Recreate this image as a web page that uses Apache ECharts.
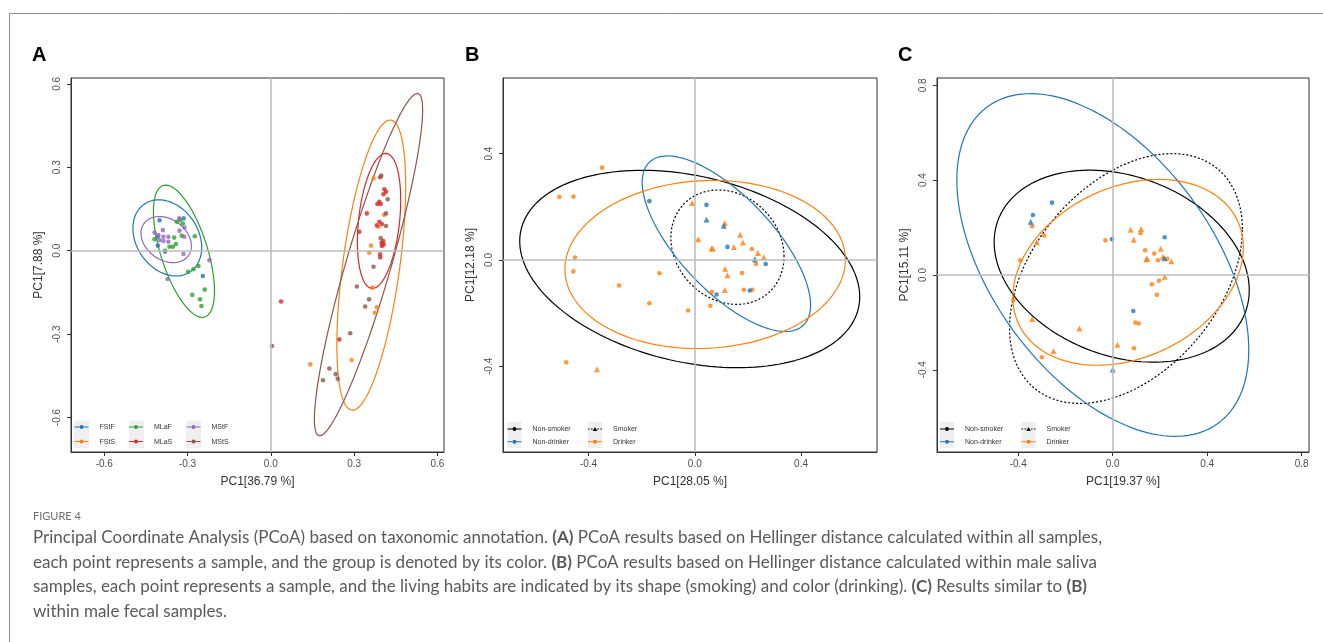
<!DOCTYPE html>
<html>
<head>
<meta charset="utf-8">
<script src="https://cdn.jsdelivr.net/npm/echarts@6/dist/echarts.min.js"></script>
<style>
  html, body { margin: 0; padding: 0; background: #fff; }
  #chart { width: 1323px; height: 642px; }
</style>
</head>
<body>
<div id="chart"></div>
<script>
// ---- panel A: all samples, [PC1, PC2] per group ----
const groupsA = ['FStF', 'FStS', 'MLaF', 'MLaS', 'MStF', 'MStS']
const colorsA = ['#1f77b4', '#ff7f0e', '#2ca02c', '#d62728', '#9467bd', '#8c564b']
const aFStF = [[-0.401, 0.109], [-0.314, 0.116], [-0.407, 0.018], [-0.245, -0.091], [-0.408, 0.050]]
const aFStS = [[0.370, 0.260], [0.408, 0.129], [0.388, 0.086], [0.361, 0.018], [0.355, -0.007],
  [0.366, -0.133], [0.382, -0.204], [0.375, -0.223], [0.142, -0.409], [0.291, -0.393]]
const aMLaF = [[-0.339, 0.104], [-0.327, 0.110], [-0.317, 0.098], [-0.419, 0.041], [-0.348, 0.047],
  [-0.342, 0.024], [-0.365, 0.014], [-0.353, 0.014], [-0.381, 0.000], [-0.321, 0.054],
  [-0.274, 0.052], [-0.298, -0.076], [-0.279, -0.067], [-0.261, -0.055], [-0.238, -0.140],
  [-0.283, -0.159], [-0.255, -0.175], [-0.250, -0.199]]
const aMLaS = [[0.037, -0.183], [0.247, -0.319], [0.394, 0.264], [0.409, 0.221], [0.415, 0.212],
  [0.406, 0.203], [0.391, 0.176], [0.384, 0.168], [0.396, 0.168], [0.346, 0.134],
  [0.391, 0.104], [0.400, 0.096], [0.382, 0.091], [0.319, 0.068], [0.405, 0.035],
  [0.399, 0.028], [0.407, 0.022], [0.400, 0.017], [0.394, -0.013], [0.394, -0.024]]
const aMStF = [[-0.419, 0.065], [-0.389, 0.074], [-0.387, 0.050], [-0.405, 0.056], [-0.401, 0.038],
  [-0.387, 0.035], [-0.369, 0.050], [-0.369, 0.032], [-0.381, -0.004], [-0.329, 0.072],
  [-0.312, 0.050], [-0.315, -0.012], [-0.221, -0.034], [-0.372, -0.102], [-0.330, 0.116],
  [-0.311, 0.083]]
const aMStS = [[0.398, 0.270], [0.421, 0.185], [0.415, 0.134], [0.415, 0.089], [0.396, 0.045],
  [0.370, -0.058], [0.310, -0.129], [0.354, -0.175], [0.340, -0.201], [0.004, -0.343],
  [0.286, -0.297], [0.211, -0.424], [0.234, -0.444], [0.241, -0.461], [0.188, -0.466]]
// ellipses: [centre x, centre y, half width, half height, x offset of top point]
const ellipsesA = [
  [-0.373, 0.046, 0.124, 0.137, -0.031],
  [0.362, -0.052, 0.124, 0.522, 0.068],
  [-0.313, -0.002, 0.110, 0.238, -0.066],
  [0.390, 0.107, 0.078, 0.243, 0.024],
  [-0.377, 0.040, 0.091, 0.083, -0.025],
  [0.352, -0.050, 0.195, 0.616, 0.176]
]

// ---- panel B: male saliva ----
const bDrinkerNonSmoker = [[-0.349, 0.347], [-0.510, 0.237], [-0.457, 0.238], [-0.451, 0.009],
  [-0.457, -0.043], [-0.133, -0.050], [-0.285, -0.096], [-0.171, -0.163], [-0.025, -0.190],
  [-0.484, -0.385], [0.065, -0.120], [0.059, -0.172], [0.215, 0.041], [0.230, -0.015],
  [0.178, -0.049], [0.185, -0.112], [0.217, -0.112]]
const bDrinkerSmoker = [[-0.368, -0.411], [-0.010, 0.214], [0.013, 0.078], [0.063, 0.043],
  [0.068, 0.043], [0.113, 0.139], [0.171, 0.095], [0.181, 0.066], [0.147, 0.049],
  [0.238, 0.026], [0.260, 0.010], [0.114, -0.033], [0.123, -0.058], [0.113, -0.113]]
const bNonDrinkerNonSmoker = [[-0.171, 0.221], [0.044, 0.207], [0.123, 0.049], [0.267, -0.015],
  [0.082, -0.130], [0.207, -0.115]]
const bNonDrinkerSmoker = [[0.044, 0.152], [0.109, 0.129], [0.226, 0.003]]
const ellipsesB = {
  nonSmoker: [-0.019, -0.034, 0.640, 0.371, -0.18],
  smoker: [0.123, 0.048, 0.213, 0.215, -0.035],
  nonDrinker: [0.119, 0.061, 0.317, 0.330, -0.222],
  drinker: [0.039, -0.017, 0.528, 0.316, 0.03]
}

// ---- panel C: male fecal ----
const cDrinkerNonSmoker = [[-0.341, 0.205], [-0.290, 0.166], [-0.392, 0.062], [-0.031, 0.146],
  [0.118, 0.176], [0.137, 0.104], [0.176, 0.090], [0.192, 0.062], [0.231, 0.068],
  [0.166, -0.039], [0.196, -0.024], [0.187, -0.084], [0.096, -0.201], [0.110, -0.205],
  [0.090, -0.309], [-0.300, -0.347], [-0.420, -0.105]]
const cDrinkerSmoker = [[0.076, 0.191], [0.120, 0.194], [0.089, 0.149], [-0.321, 0.138],
  [0.203, 0.111], [0.142, 0.066], [0.146, 0.068], [0.212, 0.077], [0.248, 0.058],
  [0.220, -0.008], [-0.141, -0.226], [-0.341, -0.186], [0.020, -0.294], [-0.251, -0.321]]
const cNonDrinkerNonSmoker = [[-0.257, 0.305], [-0.338, 0.253], [-0.003, 0.151], [0.220, 0.159],
  [0.087, -0.152]]
const cNonDrinkerSmoker = [[-0.347, 0.225], [0.000, -0.399], [0.219, 0.070]]
const ellipsesC = {
  nonSmoker: [0.038, 0.037, 0.540, 0.405, -0.135],
  smoker: [0.056, -0.015, 0.493, 0.527, 0.195],
  nonDrinker: [-0.042, 0.042, 0.618, 0.723, -0.306],
  drinker: [0.065, 0.011, 0.488, 0.392, 0.13]
}

// ---- axes ----
const ticksA = [-0.6, -0.3, 0, 0.3, 0.6]
const ticksB = [-0.4, 0, 0.4]
const ticksC = [-0.4, 0, 0.4, 0.8]
const xTitles = ['PC1[36.79 %]', 'PC1[28.05 %]', 'PC1[19.37 %]']
const yTitles = ['PC1[7.88 %]', 'PC1[12.18 %]', 'PC1[15.11 %]']
const panelLetters = ['A', 'B', 'C']

const captionHead = 'FIGURE 4'
const captionLines = [
  'Principal Coordinate Analysis (PCoA) based on taxonomic annotation. {b|(A)} PCoA results based on Hellinger distance calculated within all samples,',
  'each point represents a sample, and the group is denoted by its color. {b|(B)} PCoA results based on Hellinger distance calculated within male saliva',
  'samples, each point represents a sample, and the living habits are indicated by its shape (smoking) and color (drinking). {b|(C)} Results similar to {b|(B)}',
  'within male fecal samples.'
]

const BLUE = '#1f77b4'
const ORANGE = '#ff7f0e'
const AXIS_FONT = 'Liberation Sans'

function ellipsePath([cx, cy, hx, hy, tx]) {
  const phi = Math.acos(tx / hx)
  const pts = []
  for (let i = 0; i <= 160; i++) {
    const t = (i / 160) * Math.PI * 2
    pts.push([cx + hx * Math.cos(t), cy + hy * Math.cos(t - phi)])
  }
  return pts
}

function dots(name, data, color, symbol, gi) {
  return {
    type: 'scatter', name, data, xAxisIndex: gi, yAxisIndex: gi,
    symbol, symbolSize: symbol === 'triangle' ? 6 : 4.6,
    itemStyle: { color }, z: 4, silent: true
  }
}

function ring(name, e, color, dotted, gi) {
  return {
    type: 'line', name, data: ellipsePath(e), xAxisIndex: gi, yAxisIndex: gi,
    showSymbol: false, symbol: 'none', color,
    itemStyle: { color },
    lineStyle: { color, width: 1.2, type: dotted ? [2, 2] : 'solid' },
    z: 3, silent: true
  }
}

function zeroLines(gi) {
  return {
    type: 'line', data: [], xAxisIndex: gi, yAxisIndex: gi, z: 1, silent: true,
    markLine: {
      silent: true, symbol: 'none', label: { show: false },
      lineStyle: { color: '#bdbdbd', width: 1.6, type: 'solid' },
      data: [{ xAxis: 0 }, { yAxis: 0 }]
    }
  }
}

function axis(gi, min, max, ticks, title, vertical) {
  return {
    gridIndex: gi, type: 'value', min, max,
    axisLine: { show: true, onZero: false, lineStyle: { color: '#333', width: 1 } },
    axisTick: { show: true, customValues: ticks, length: 4, lineStyle: { color: '#333' } },
    axisLabel: {
      customValues: ticks, formatter: (v) => v.toFixed(1),
      color: '#4d4d4d', fontSize: 10, fontFamily: AXIS_FONT,
      margin: vertical ? 9 : 7, rotate: vertical ? 90 : 0
    },
    splitLine: { show: false },
    name: title, nameLocation: 'middle', nameGap: vertical ? 26 : 24,
    nameTextStyle: { color: '#333', fontSize: 12, fontFamily: AXIS_FONT }
  }
}

const dotIcon = 'path://M0,2.5h5v1h-5z M9,2.5h5v1h-5z M5,3a2,2 0 1,0 4,0a2,2 0 1,0 -4,0z'
const triIcon = 'path://M0,2.5h1.6v1h-1.6z M3,2.5h1.6v1h-1.6z M9.4,2.5h1.6v1h-1.6z M12.4,2.5h1.6v1h-1.6z M7,1L9.3,5L4.7,5z'

function legendCol(names, icons, left, top, gap) {
  return {
    orient: 'vertical', left, top, padding: 0, itemGap: gap, z: 20,
    itemWidth: 14, itemHeight: 10, symbolKeepAspect: true, selectedMode: false,
    itemStyle: { borderWidth: 0 },
    textStyle: { fontSize: 7, color: '#333', fontFamily: AXIS_FONT, lineHeight: 10, padding: [0, 0, 0, 6] },
    data: names.map((name, i) => ({ name, icon: icons[i] }))
  }
}

const chart = echarts.init(document.getElementById('chart'))

const dataA = [aFStF, aFStS, aMLaF, aMLaS, aMStF, aMStS]
const series = [zeroLines(0), zeroLines(1), zeroLines(2)]
groupsA.forEach((g, i) => {
  series.push(ring(g, ellipsesA[i], colorsA[i], false, 0))
  series.push(dots(g, dataA[i], colorsA[i], 'circle', 0))
})

;[[ellipsesB, bDrinkerNonSmoker, bDrinkerSmoker, bNonDrinkerNonSmoker, bNonDrinkerSmoker, 1],
  [ellipsesC, cDrinkerNonSmoker, cDrinkerSmoker, cNonDrinkerNonSmoker, cNonDrinkerSmoker, 2]]
  .forEach(([ell, dns, ds, nns, ns, gi]) => {
    series.push(ring('Non-smoker', ell.nonSmoker, '#000', false, gi))
    series.push(ring('Smoker', ell.smoker, '#000', true, gi))
    series.push(ring('Non-drinker', ell.nonDrinker, BLUE, false, gi))
    series.push(ring('Drinker', ell.drinker, ORANGE, false, gi))
    series.push(dots('Drinker', dns, ORANGE, 'circle', gi))
    series.push(dots('Drinker', ds, ORANGE, 'triangle', gi))
    series.push(dots('Non-drinker', nns, BLUE, 'circle', gi))
    series.push(dots('Non-drinker', ns, BLUE, 'triangle', gi))
  })

const grids = [
  { left: 71, top: 78, width: 373, height: 374 },
  { left: 503, top: 78, width: 374, height: 374 },
  { left: 937, top: 78, width: 372, height: 374 }
].map((g) => ({ ...g, show: true, borderColor: '#333', borderWidth: 1, backgroundColor: 'transparent', outerBoundsMode: 'none', containLabel: false }))

const keyBoxes = [[74, 420.5, 15, 28], [129, 420.5, 15, 28], [186, 420.5, 15, 28],
  [507.5, 422, 14, 26], [588, 422, 14, 26], [940, 422, 14, 26], [1021.5, 422, 14, 26]]

const graphic = [
  { type: 'rect', silent: true, z: 0, shape: { x: 9.5, y: 13.5, width: 1340, height: 700 },
    style: { fill: 'none', stroke: '#8c8c8c', lineWidth: 1 } },
  ...keyBoxes.map(([x, y, w, h]) => ({
    type: 'rect', silent: true, z: 1, shape: { x, y, width: w, height: h }, style: { fill: '#efefef' }
  })),
  ...panelLetters.map((t, i) => ({
    type: 'text', silent: true, left: [32, 465, 898][i], top: 45,
    style: { text: t, font: 'bold 20px "Liberation Sans"', fill: '#000' }
  })),
  { type: 'text', silent: true, left: 33, top: 511,
    style: { text: captionHead, font: '11px Lato', fill: '#6e6e6e' } },
  ...captionLines.map((line, i) => ({
    type: 'text', silent: true, left: 33, top: 527 + i * 24.6,
    style: {
      text: line, font: '17px Lato', fill: '#5a5a5a', lineHeight: 21,
      rich: { b: { fontWeight: 'bold', fontSize: 17, fontFamily: 'Lato', fill: '#5a5a5a', lineHeight: 21 } }
    }
  }))
]

chart.setOption({
  animation: false,
  grid: grids,
  xAxis: [axis(0, -0.72, 0.624, ticksA, xTitles[0], false),
    axis(1, -0.722, 0.686, ticksB, xTitles[1], false),
    axis(2, -0.744, 0.831, ticksC, xTitles[2], false)],
  yAxis: [axis(0, -0.724, 0.621, ticksA, yTitles[0], true),
    axis(1, -0.722, 0.684, ticksB, yTitles[1], true),
    axis(2, -0.747, 0.831, ticksC, yTitles[2], true)],
  legend: [
    legendCol(['FStF', 'FStS'], [dotIcon, dotIcon], 74.5, 422, 4.6),
    legendCol(['MLaF', 'MLaS'], [dotIcon, dotIcon], 129, 422, 4.6),
    legendCol(['MStF', 'MStS'], [dotIcon, dotIcon], 186.5, 422, 4.6),
    legendCol(['Non-smoker', 'Non-drinker'], [dotIcon, dotIcon], 507.5, 424, 2.7),
    legendCol(['Smoker', 'Drinker'], [triIcon, dotIcon], 588, 424, 2.7),
    legendCol(['Non-smoker', 'Non-drinker'], [dotIcon, dotIcon], 940, 424, 2.7),
    legendCol(['Smoker', 'Drinker'], [triIcon, dotIcon], 1021.5, 424, 2.7)
  ],
  graphic,
  series
})
</script>
</body>
</html>
